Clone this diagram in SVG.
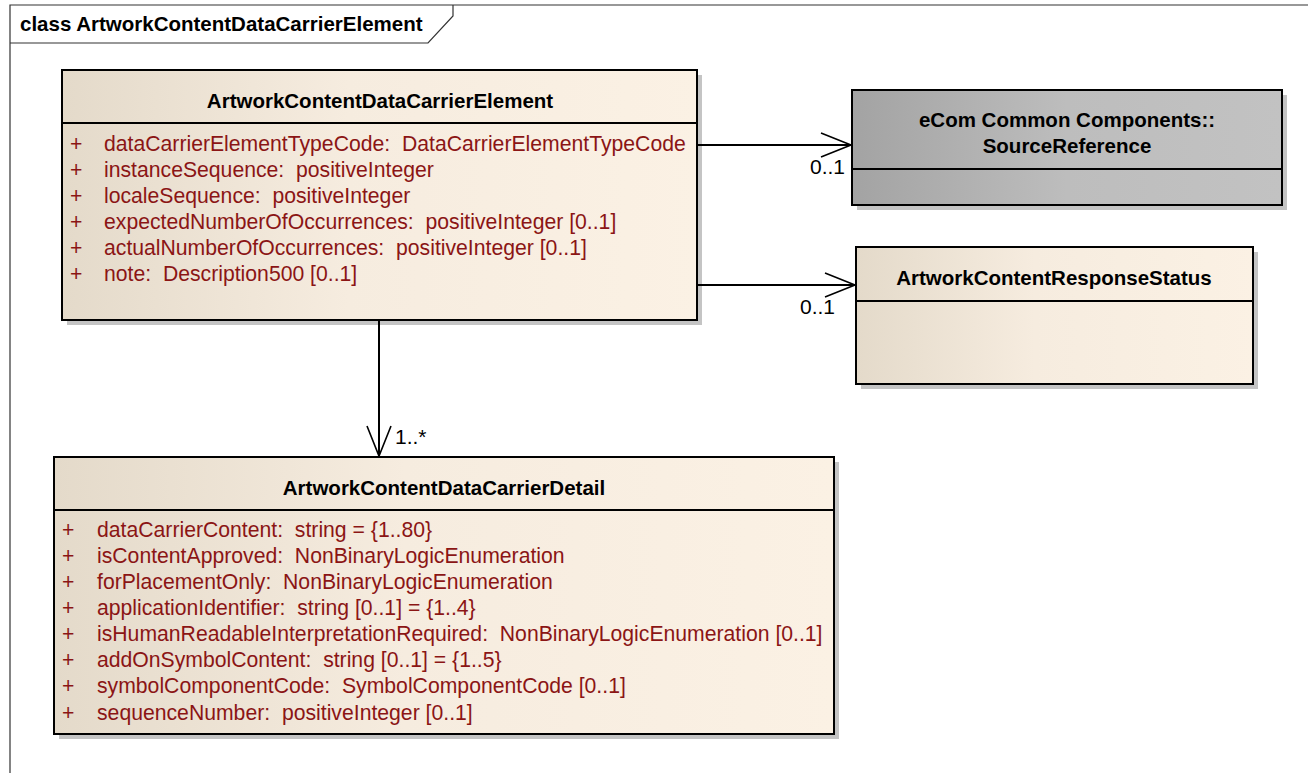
<svg xmlns="http://www.w3.org/2000/svg" width="1308" height="773" viewBox="0 0 1308 773">
<defs>
<linearGradient id="beige" x1="0" y1="0" x2="1" y2="0">
<stop offset="0" stop-color="#E4DACA"/>
<stop offset="0.45" stop-color="#F6ECDF"/>
<stop offset="1" stop-color="#FBF1E4"/>
</linearGradient>
<linearGradient id="gray" x1="0" y1="0" x2="1" y2="0">
<stop offset="0" stop-color="#A3A3A3"/>
<stop offset="0.5" stop-color="#BDBDBD"/>
<stop offset="1" stop-color="#C2C2C2"/>
</linearGradient>
<marker id="open" markerWidth="34" markerHeight="28" refX="31" refY="13" orient="auto" markerUnits="userSpaceOnUse">
<path d="M1,1 L31,13 L1,25" fill="none" stroke="#000" stroke-width="1.6"/>
</marker>
</defs>
<style>
.box{stroke:#000;stroke-width:2}
.shadow{fill:#C4C4C4}
.div{stroke:#000;stroke-width:2}
.title{font-family:"Liberation Sans",Arial,sans-serif;font-weight:bold;font-size:20.5px;fill:#000;text-anchor:middle}
.attr{font-family:"Liberation Sans",Arial,sans-serif;font-size:21.2px;fill:#8B1515;white-space:pre}
.mult{font-family:"Liberation Sans",Arial,sans-serif;font-size:21px;fill:#000}
.conn{stroke:#000;stroke-width:2;fill:none}
.frame{stroke:#333;stroke-width:1.2;fill:none}
</style>
<rect width="1308" height="773" fill="#fff"/>
<g id="frame">
<path class="frame" d="M10,773 L10,5 L1308,5"/>
<path class="frame" d="M10,43 L428,43 L453,16 L453,5"/>
<text x="20" y="31" style="font-family:'Liberation Sans',Arial,sans-serif;font-weight:bold;font-size:20.5px;fill:#000">class ArtworkContentDataCarrierElement</text>
</g>
<g id="ArtworkContentDataCarrierElement">
<rect class="shadow" x="67" y="75" width="635" height="250"/>
<rect class="box" x="62" y="70" width="635" height="250" fill="url(#beige)"/>
<line class="div" x1="62" y1="123" x2="697" y2="123"/>
<text class="title" x="380" y="108">ArtworkContentDataCarrierElement</text>
<g class="attr">
<text x="70" y="151">+</text><text x="104" y="151" xml:space="preserve">dataCarrierElementTypeCode:  DataCarrierElementTypeCode</text>
<text x="70" y="177">+</text><text x="104" y="177" xml:space="preserve">instanceSequence:  positiveInteger</text>
<text x="70" y="203">+</text><text x="104" y="203" xml:space="preserve">localeSequence:  positiveInteger</text>
<text x="70" y="229">+</text><text x="104" y="229" xml:space="preserve">expectedNumberOfOccurrences:  positiveInteger [0..1]</text>
<text x="70" y="255">+</text><text x="104" y="255" xml:space="preserve">actualNumberOfOccurrences:  positiveInteger [0..1]</text>
<text x="70" y="281">+</text><text x="104" y="281" xml:space="preserve">note:  Description500 [0..1]</text>
</g>
</g>
<g id="SourceReference">
<rect class="shadow" x="857" y="95" width="430" height="115"/>
<rect class="box" x="852" y="90" width="430" height="115" fill="url(#gray)"/>
<line class="div" x1="852" y1="169" x2="1282" y2="169"/>
<text class="title" x="1067" y="127">eCom Common Components::</text>
<text class="title" x="1067" y="153">SourceReference</text>
</g>
<g id="ArtworkContentResponseStatus">
<rect class="shadow" x="861" y="252" width="397" height="137"/>
<rect class="box" x="856" y="247" width="397" height="137" fill="url(#beige)"/>
<line class="div" x1="856" y1="301" x2="1253" y2="301"/>
<text class="title" x="1054" y="285">ArtworkContentResponseStatus</text>
</g>
<g id="ArtworkContentDataCarrierDetail">
<rect class="shadow" x="59" y="462" width="780" height="277"/>
<rect class="box" x="54" y="457" width="780" height="277" fill="url(#beige)"/>
<line class="div" x1="54" y1="510" x2="834" y2="510"/>
<text class="title" x="444" y="495">ArtworkContentDataCarrierDetail</text>
<g class="attr">
<text x="62" y="537">+</text><text x="97" y="537" xml:space="preserve">dataCarrierContent:  string = {1..80}</text>
<text x="62" y="563">+</text><text x="97" y="563" xml:space="preserve">isContentApproved:  NonBinaryLogicEnumeration</text>
<text x="62" y="589">+</text><text x="97" y="589" xml:space="preserve">forPlacementOnly:  NonBinaryLogicEnumeration</text>
<text x="62" y="615">+</text><text x="97" y="615" xml:space="preserve">applicationIdentifier:  string [0..1] = {1..4}</text>
<text x="62" y="641">+</text><text x="97" y="641" xml:space="preserve">isHumanReadableInterpretationRequired:  NonBinaryLogicEnumeration [0..1]</text>
<text x="62" y="667">+</text><text x="97" y="667" xml:space="preserve">addOnSymbolContent:  string [0..1] = {1..5}</text>
<text x="62" y="693">+</text><text x="97" y="693" xml:space="preserve">symbolComponentCode:  SymbolComponentCode [0..1]</text>
<text x="62" y="720">+</text><text x="97" y="720" xml:space="preserve">sequenceNumber:  positiveInteger [0..1]</text>
</g>
</g>
<g id="connectors">
<path class="conn" d="M697,145 L851,145" marker-end="url(#open)"/>
<text class="mult" x="845" y="174" text-anchor="end">0..1</text>
<path class="conn" d="M697,285 L855,285" marker-end="url(#open)"/>
<text class="mult" x="835" y="314" text-anchor="end">0..1</text>
<path class="conn" d="M379,321 L379,456" marker-end="url(#open)"/>
<text class="mult" x="395" y="444">1..*</text>
</g>
</svg>
